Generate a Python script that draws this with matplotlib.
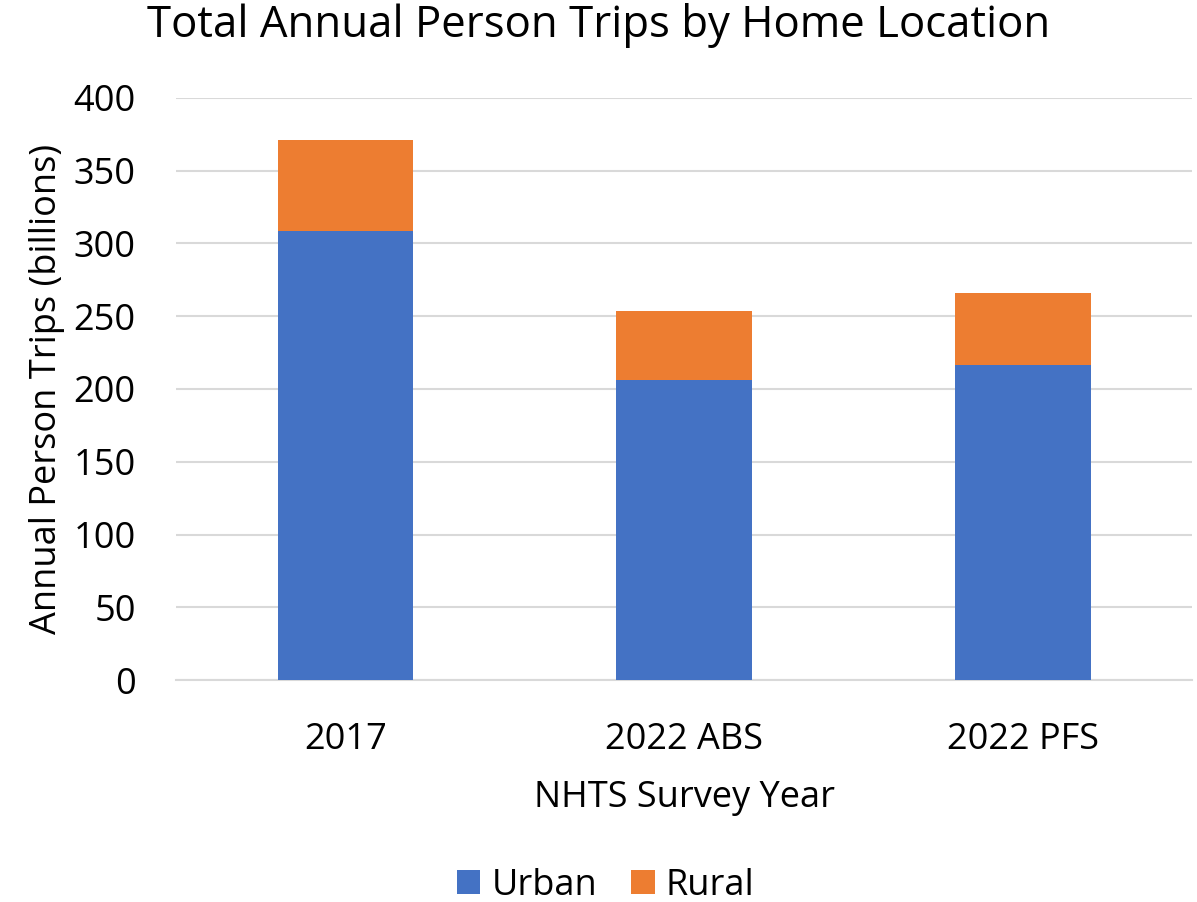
import matplotlib
matplotlib.use('Agg')
import matplotlib.pyplot as plt
import numpy as np

categories = ['2017', '2022 ABS', '2022 PFS']
urban = [308.7, 206.0, 216.3]
rural = [62.6, 47.6, 50.0]
yticks = [0, 50, 100, 150, 200, 250, 300, 350, 400]

plt.rcParams['font.family'] = ['Open Sans', 'DejaVu Sans']

fig = plt.figure(figsize=(11.97, 9.02), dpi=100)
ax = fig.add_axes([0.147, 0.2461, 0.849, 0.6453])

x = np.arange(len(categories))
ax.bar(x, urban, width=0.4, color='#4472C4', label='Urban', zorder=3)
ax.bar(x, rural, width=0.4, bottom=urban, color='#ED7D31', label='Rural', zorder=3)

ax.set_xlim(-0.5, 2.5)
ax.set_ylim(0, 400)
ax.set_yticks(yticks)
ax.set_xticks(x)
ax.set_xticklabels(categories)
ax.tick_params(axis='both', length=0, labelsize=26)
ax.tick_params(axis='x', pad=30)
ax.tick_params(axis='y', pad=29)
ax.grid(axis='y', color='#d9d9d9', linewidth=1.5, zorder=0)
for s in ['top', 'right', 'left']:
    ax.spines[s].set_visible(False)
ax.spines['bottom'].set_color('#d9d9d9')
ax.spines['bottom'].set_linewidth(1.5)

ax.set_ylabel('Annual Person Trips (billions)', fontsize=26, labelpad=6)
ax.set_xlabel('NHTS Survey Year', fontsize=26, labelpad=16)
fig.text(0.5, 0.972, 'Total Annual Person Trips by Home Location', fontsize=31.5,
         ha='center', va='center')

fig.legend(loc='center', bbox_to_anchor=(0.506, 0.018), ncol=2, frameon=False,
           fontsize=26, handlelength=0.65, handleheight=0.65, handletextpad=0.3,
           columnspacing=0.95)

fig.savefig('out.png', dpi=100)
